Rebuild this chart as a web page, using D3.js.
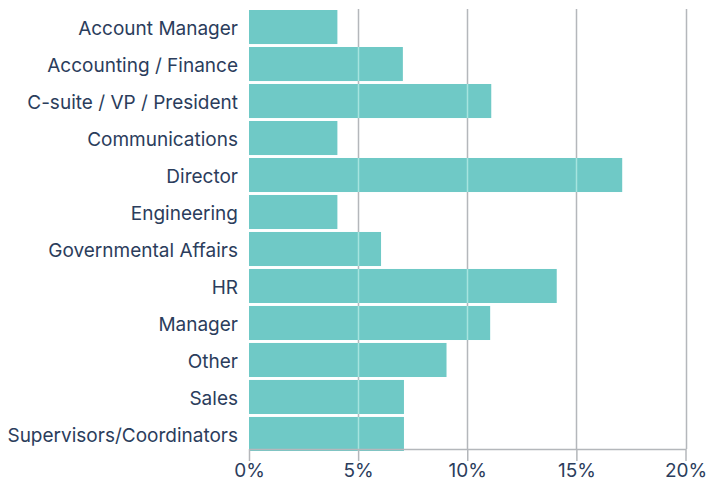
<!DOCTYPE html>
<html>
<head>
<meta charset="utf-8">
<script src="https://cdn.jsdelivr.net/npm/d3@7"></script>
<style>
	body { margin: 0; background: #fff; }
	text { font-family: Inter, "Open Sans", sans-serif; fill: #2b3d5c; }
</style>
</head>
<body>
<div id="chart"></div>
<script>
const roles = ["Account Manager", "Accounting / Finance", "C-suite / VP / President", "Communications",
	"Director", "Engineering", "Governmental Affairs", "HR", "Manager", "Other", "Sales",
	"Supervisors/Coordinators"]
const shares = [4.05, 7.05, 11.1, 4.05, 17.1, 4.05, 6.05, 14.1, 11.05, 9.05, 7.1, 7.1]
const ticks = [0, 5, 10, 15, 20]

const params = { width: 706, height: 485, left: 249, right: 685.5, top: 10, bottom: 448 }

const svg = d3.select("#chart").append("svg")
	.attr("width", params.width)
	.attr("height", params.height)

const xScale = d3.scaleLinear().domain([0, 20]).range([params.left, params.right])
const yScale = d3.scaleBand().domain(roles)
	.range([params.top, params.bottom + 3])
	.paddingInner(0.08).paddingOuter(0)

// grid lines behind bars
svg.append("g")
	.selectAll("line")
	.data(ticks.slice(1))
	.join("line")
	.attr("x1", d => Math.round(xScale(d)) + 0.5)
	.attr("x2", d => Math.round(xScale(d)) + 0.5)
	.attr("y1", 9)
	.attr("y2", params.bottom + 1)
	.attr("stroke", "#b4b7bb")
	.attr("stroke-width", 1.5)

const data = roles.map((r, i) => ({ role: r, value: shares[i] }))

svg.append("g")
	.selectAll("rect")
	.data(data)
	.join("rect")
	.attr("x", xScale(0))
	.attr("y", d => yScale(d.role))
	.attr("width", d => xScale(d.value) - xScale(0))
	.attr("height", yScale.bandwidth())
	.attr("fill", "#6fc9c6")

// light grid segments showing through bars
svg.append("g")
	.selectAll("line")
	.data(data.flatMap(d => ticks.slice(1).filter(t => t < d.value).map(t => ({ role: d.role, t }))))
	.join("line")
	.attr("x1", d => Math.round(xScale(d.t)) + 0.5)
	.attr("x2", d => Math.round(xScale(d.t)) + 0.5)
	.attr("y1", d => yScale(d.role))
	.attr("y2", d => yScale(d.role) + yScale.bandwidth())
	.attr("stroke", "#a6e4df")
	.attr("stroke-width", 1.5)

// x axis
const axis = svg.append("g")
	.attr("transform", `translate(0, ${params.bottom + 1})`)
	.call(d3.axisBottom(xScale).tickValues(ticks).tickFormat(d => d + "%").tickSize(12).tickSizeOuter(0))
axis.select(".domain").attr("stroke", "#b4b7bb").attr("stroke-width", 1.5)
axis.selectAll(".tick line").attr("stroke", "#b4b7bb").attr("stroke-width", 1.5)
axis.selectAll(".tick text")
	.attr("font-size", 19)
	.attr("font-family", null)
	.attr("fill", null)
	.attr("dy", "0.71em")
	.attr("y", 15)

// category labels
svg.append("g")
	.selectAll("text")
	.data(roles)
	.join("text")
	.attr("x", params.left - 11)
	.attr("y", d => yScale(d) + yScale.bandwidth() / 2)
	.attr("dy", "0.42em")
	.attr("text-anchor", "end")
	.attr("font-size", 19)
	.text(d => d)
</script>
</body>
</html>
